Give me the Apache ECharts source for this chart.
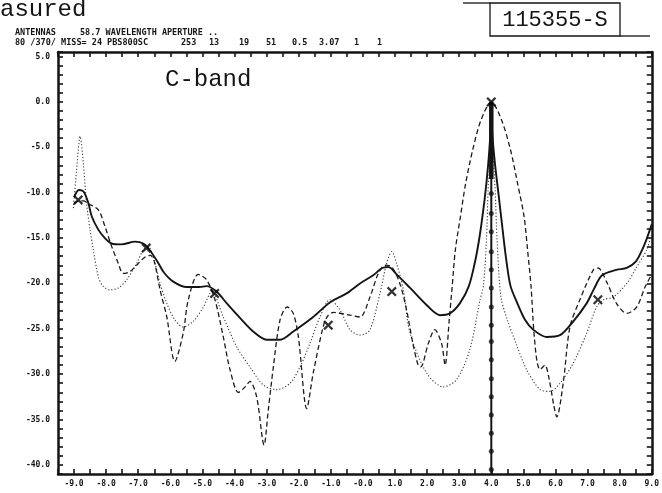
<!DOCTYPE html>
<html>
<head>
<meta charset="utf-8">
<script src="https://cdn.jsdelivr.net/npm/echarts@6/dist/echarts.min.js"></script>
<style>
  html, body { margin: 0; padding: 0; background: #ffffff; }
  #chart { width: 662px; height: 493px; }
</style>
</head>
<body>
<div id="chart"></div>
<script>
// ---- Tick labels ----
const xTickValues = [-9, -8, -7, -6, -5, -4, -3, -2, -1, 0, 1, 2, 3, 4, 5, 6, 7, 8, 9];
const xTickLabels = ['-9.0', '-8.0', '-7.0', '-6.0', '-5.0', '-4.0', '-3.0', '-2.0', '-1.0', '-0.0',
                     '1.0', '2.0', '3.0', '4.0', '5.0', '6.0', '7.0', '8.0', '9.0'];
const yTickValues = [5, 0, -5, -10, -15, -20, -25, -30, -35, -40];
const yTickLabels = ['5.0', '0.0', '-5.0', '-10.0', '-15.0', '-20.0', '-25.0', '-30.0', '-35.0', '-40.0'];

// ---- Series values (x = angle, y = level dB) ----
const solidCurve = [
  [-9.0, -10.5], [-8.85, -9.7], [-8.7, -9.9], [-8.55, -11.2], [-8.45, -12.6], [-8.24, -14.1],
  [-8.04, -15.0], [-7.83, -15.6], [-7.52, -15.7], [-7.1, -15.4], [-6.84, -15.6], [-6.69, -16.1],
  [-6.4, -17.6], [-6.2, -18.8], [-5.91, -19.8], [-5.49, -20.4], [-5.1, -20.4], [-4.87, -20.3],
  [-4.56, -20.9], [-4.24, -22.2], [-3.83, -23.8], [-3.42, -25.3], [-3.0, -26.2], [-2.58, -26.2],
  [-2.17, -25.3], [-1.55, -23.7], [-1.03, -22.1], [-0.51, -21.1], [-0.09, -20.0], [0.32, -19.1],
  [0.6, -18.3], [0.8, -18.2], [1.05, -19.0], [1.47, -20.5], [1.99, -22.4], [2.4, -23.5],
  [2.71, -23.3], [3.02, -22.2], [3.3, -20.3], [3.5, -17.5], [3.65, -14.5], [3.8, -10.5],
  [3.9, -7.0], [3.97, -3.5], [4.0, 0.0], [4.03, -3.5], [4.12, -7.0], [4.22, -10.0],
  [4.35, -14.0], [4.47, -17.5], [4.6, -20.3], [4.79, -22.0], [5.05, -24.0], [5.31, -25.1],
  [5.72, -25.9], [6.14, -25.7], [6.55, -24.2], [6.97, -22.2], [7.2, -20.6], [7.45, -19.1],
  [7.9, -18.5], [8.22, -18.3], [8.5, -17.6], [8.7, -16.3], [8.85, -15.0], [9.0, -13.5]
];
const dashedCurve = [
  [-9.0, -11.2], [-8.85, -10.9], [-8.7, -10.9], [-8.56, -11.2], [-8.24, -11.9], [-8.04, -13.7],
  [-7.83, -15.9], [-7.62, -17.8], [-7.47, -18.9], [-7.26, -18.7], [-7.0, -17.8], [-6.79, -17.1],
  [-6.62, -16.9], [-6.5, -17.6], [-6.32, -20.7], [-6.11, -23.7], [-5.86, -28.6], [-5.6, -25.5],
  [-5.44, -21.8], [-5.13, -19.0], [-4.87, -19.6], [-4.61, -21.8], [-4.35, -25.9], [-4.14, -29.5],
  [-3.88, -32.0], [-3.67, -31.4], [-3.52, -30.8], [-3.31, -32.5], [-3.08, -37.8], [-2.95, -34.0],
  [-2.79, -29.2], [-2.58, -24.0], [-2.36, -22.6], [-2.17, -23.3], [-2.01, -25.9], [-1.75, -33.8],
  [-1.55, -29.9], [-1.24, -24.8], [-1.1, -23.6], [-0.92, -23.2], [-0.4, -23.5], [-0.09, -23.7],
  [0.22, -21.5], [0.48, -18.9], [0.69, -18.0], [0.9, -18.2], [1.15, -20.0], [1.36, -22.9],
  [1.55, -26.5], [1.72, -29.0], [1.8, -29.2], [2.04, -26.6], [2.24, -25.1], [2.45, -26.6],
  [2.56, -29.0], [2.69, -24.0], [2.78, -20.4], [2.88, -16.3], [3.04, -12.6], [3.2, -9.0],
  [3.42, -5.3], [3.68, -2.0], [4.0, 0.0], [4.32, -2.0], [4.6, -5.3], [4.82, -9.0],
  [5.02, -12.6], [5.13, -16.3], [5.24, -20.4], [5.32, -25.0], [5.42, -28.5], [5.52, -29.5],
  [5.67, -29.0], [5.8, -30.5], [5.95, -33.5], [6.04, -34.7], [6.24, -31.0], [6.45, -24.8],
  [6.76, -21.8], [7.18, -18.5], [7.33, -18.3], [7.59, -19.8], [7.9, -22.2], [8.22, -23.3],
  [8.53, -22.6], [8.79, -20.4], [9.0, -19.0]
];
const dottedCurve = [
  [-9.02, -11.7], [-8.92, -7.5], [-8.81, -3.8], [-8.71, -6.8], [-8.61, -11.2], [-8.5, -14.1],
  [-8.4, -16.3], [-8.24, -19.3], [-8.1, -20.3], [-7.88, -20.7], [-7.62, -20.5], [-7.36, -19.6],
  [-7.05, -17.8], [-6.84, -16.3], [-6.68, -16.0], [-6.5, -17.5], [-6.32, -20.0], [-6.11, -22.2],
  [-5.86, -24.0], [-5.6, -24.8], [-5.29, -24.2], [-4.97, -22.6], [-4.71, -20.9], [-4.35, -23.7],
  [-3.93, -27.0], [-3.52, -29.2], [-3.1, -31.2], [-2.69, -31.7], [-2.27, -31.0], [-1.96, -29.2],
  [-1.65, -26.6], [-1.34, -23.7], [-1.03, -21.8], [-0.72, -22.9], [-0.4, -25.1], [-0.09, -25.7],
  [0.22, -25.1], [0.53, -21.1], [0.74, -17.8], [0.9, -16.5], [1.05, -17.8], [1.26, -20.7],
  [1.47, -25.5], [1.99, -29.9], [2.5, -31.4], [2.92, -30.6], [3.33, -27.3], [3.65, -21.8],
  [3.75, -20.4], [3.85, -15.2], [3.9, -9.7], [3.96, -6.0], [4.0, -1.0], [4.06, -6.0],
  [4.12, -9.7], [4.18, -15.2], [4.3, -21.5], [4.5, -24.0], [4.79, -26.8], [5.1, -29.5],
  [5.52, -31.7], [5.83, -31.9], [6.14, -31.0], [6.55, -28.8], [6.97, -25.5], [7.28, -22.6],
  [7.5, -21.8], [7.8, -21.5], [8.22, -20.0], [8.53, -18.2], [8.84, -16.3], [9.0, -14.5]
];
const crossPoints = [
  [-8.87, -10.8], [-6.75, -16.1], [-4.62, -21.1], [-1.08, -24.6], [0.9, -20.9], [4.0, 0.0], [7.32, -21.8]
];
const beamAxisX = 4.0;
const beamAxisTop = 0.0;
const beamAxisBottom = -41.0;
const beamCoreBottom = -8.5;
const beamDotLevels = [-10.1, -12.3, -14.3, -16.5, -18.5, -20.5, -22.6, -24.6, -26.4, -28.4,
                       -30.5, -32.5, -34.5, -36.5, -38.5, -40.5];

// ---- Build chart ----
const INK = '#141414';
const MONO = '"DejaVu Sans Mono", "Liberation Mono", monospace';
const chart = echarts.init(document.getElementById('chart'), null, { renderer: 'canvas' });

function lookup(values, labels, v) {
  for (let i = 0; i < values.length; i++) {
    if (Math.abs(values[i] - v) < 1e-6) return labels[i];
  }
  return '';
}

const xCommon = {
  type: 'value', min: -9.5, max: 9, interval: 0.5,
  axisLine: { show: true, onZero: false, lineStyle: { color: INK, width: 2.5 } },
  axisTick: { show: true, inside: true, length: 5, lineStyle: { color: INK, width: 1.6 } },
  splitLine: { show: false }
};
const yCommon = {
  type: 'value', min: -41, max: 5.5, interval: 1,
  axisLine: { show: true, onZero: false, lineStyle: { color: INK, width: 2.5 } },
  axisTick: { show: true, inside: true, length: 5, lineStyle: { color: INK, width: 1.6 } },
  splitLine: { show: false }
};

const crossSymbol = 'path://M0,1.6 L1.6,0 L5,3.4 L8.4,0 L10,1.6 L6.6,5 L10,8.4 L8.4,10 L5,6.6 L1.6,10 L0,8.4 L3.4,5 Z';

const option = {
  animation: false,
  backgroundColor: '#ffffff',
  grid: { left: 58, right: 10, top: 52, bottom: 19, containLabel: false },
  xAxis: [
    Object.assign({}, xCommon, {
      position: 'bottom',
      axisLabel: {
        show: true, margin: 6, color: INK, fontFamily: MONO, fontWeight: 'bold', fontSize: 8,
        formatter: v => lookup(xTickValues, xTickLabels, v)
      }
    }),
    Object.assign({}, xCommon, { position: 'top', axisLabel: { show: false } })
  ],
  yAxis: [
    Object.assign({}, yCommon, {
      position: 'left',
      axisLabel: {
        show: true, margin: 8, color: INK, fontFamily: MONO, fontWeight: 'bold', fontSize: 8,
        formatter: v => lookup(yTickValues, yTickLabels, v)
      }
    }),
    Object.assign({}, yCommon, { position: 'right', axisLabel: { show: false } })
  ],
  series: [
    {
      name: 'dotted', type: 'line', data: dottedCurve, smooth: 0.3, showSymbol: false,
      lineStyle: { color: '#3a3a3a', width: 1.1, type: [1.2, 2] }, z: 2
    },
    {
      name: 'dashed', type: 'line', data: dashedCurve, smooth: 0.3, showSymbol: false,
      lineStyle: { color: '#1c1c1c', width: 1.3, type: [5, 3] }, z: 3
    },
    {
      name: 'solid', type: 'line', data: solidCurve, smooth: 0.3, showSymbol: false,
      lineStyle: { color: INK, width: 1.9, type: 'solid' }, z: 4
    },
    {
      name: 'axis', type: 'line', showSymbol: false,
      data: [[beamAxisX, beamAxisTop], [beamAxisX, beamAxisBottom]],
      lineStyle: { color: INK, width: 2 }, z: 5
    },
    {
      name: 'core', type: 'line', showSymbol: false,
      data: [[beamAxisX, beamAxisTop], [beamAxisX, beamCoreBottom]],
      lineStyle: { color: INK, width: 4.5 }, z: 5
    },
    {
      name: 'axisDots', type: 'scatter', symbol: 'circle', symbolSize: 5,
      data: beamDotLevels.map(v => [beamAxisX, v]),
      itemStyle: { color: INK }, z: 6
    },
    {
      name: 'measured', type: 'scatter', symbol: crossSymbol, symbolSize: 10,
      data: crossPoints, itemStyle: { color: '#000000' }, z: 7
    }
  ],
  graphic: [
    { type: 'text', x: 0, y: 10, style: { text: 'asured', fontFamily: '"Liberation Mono", monospace', fontSize: 24, fill: INK, textVerticalAlign: 'middle' } },
    { type: 'text', x: 15, y: 33, style: { text: 'ANTENNAS', fontFamily: MONO, fontWeight: 'bold', fontSize: 8.5, fill: INK, textVerticalAlign: 'middle' } },
    { type: 'text', x: 80, y: 33, style: { text: '58.7 WAVELENGTH APERTURE ..', fontFamily: MONO, fontWeight: 'bold', fontSize: 8.5, fill: INK, textVerticalAlign: 'middle' } },
    { type: 'text', x: 15, y: 42.5, style: { text: '80 /370/ MISS= 24 PBS800SC', fontFamily: MONO, fontWeight: 'bold', fontSize: 8.5, fill: INK, textVerticalAlign: 'middle' } },
    { type: 'text', x: 181, y: 42.5, style: { text: '253', fontFamily: MONO, fontWeight: 'bold', fontSize: 8.5, fill: INK, textVerticalAlign: 'middle' } },
    { type: 'text', x: 209, y: 42.5, style: { text: '13', fontFamily: MONO, fontWeight: 'bold', fontSize: 8.5, fill: INK, textVerticalAlign: 'middle' } },
    { type: 'text', x: 239, y: 42.5, style: { text: '19', fontFamily: MONO, fontWeight: 'bold', fontSize: 8.5, fill: INK, textVerticalAlign: 'middle' } },
    { type: 'text', x: 266, y: 42.5, style: { text: '51', fontFamily: MONO, fontWeight: 'bold', fontSize: 8.5, fill: INK, textVerticalAlign: 'middle' } },
    { type: 'text', x: 292, y: 42.5, style: { text: '0.5', fontFamily: MONO, fontWeight: 'bold', fontSize: 8.5, fill: INK, textVerticalAlign: 'middle' } },
    { type: 'text', x: 319, y: 42.5, style: { text: '3.07', fontFamily: MONO, fontWeight: 'bold', fontSize: 8.5, fill: INK, textVerticalAlign: 'middle' } },
    { type: 'text', x: 354, y: 42.5, style: { text: '1', fontFamily: MONO, fontWeight: 'bold', fontSize: 8.5, fill: INK, textVerticalAlign: 'middle' } },
    { type: 'text', x: 377, y: 42.5, style: { text: '1', fontFamily: MONO, fontWeight: 'bold', fontSize: 8.5, fill: INK, textVerticalAlign: 'middle' } },
    { type: 'line', shape: { x1: 463, y1: 3, x2: 490, y2: 3 }, style: { stroke: INK, lineWidth: 1.3 } },
    { type: 'rect', shape: { x: 490, y: 3, width: 130, height: 33 }, style: { stroke: INK, lineWidth: 1.3, fill: null } },
    { type: 'line', shape: { x1: 620, y1: 36, x2: 650, y2: 36 }, style: { stroke: INK, lineWidth: 1.3 } },
    { type: 'text', x: 555, y: 20, style: { text: '115355-S', fontFamily: '"Liberation Mono", monospace', fontSize: 22, fill: INK, textAlign: 'center', textVerticalAlign: 'middle' } },
    { type: 'text', x: 165, y: 80, style: { text: 'C-band', fontFamily: '"Liberation Mono", monospace', fontSize: 24, fill: INK, textVerticalAlign: 'middle' } }
  ]
};
chart.setOption(option);
</script>
</body>
</html>
